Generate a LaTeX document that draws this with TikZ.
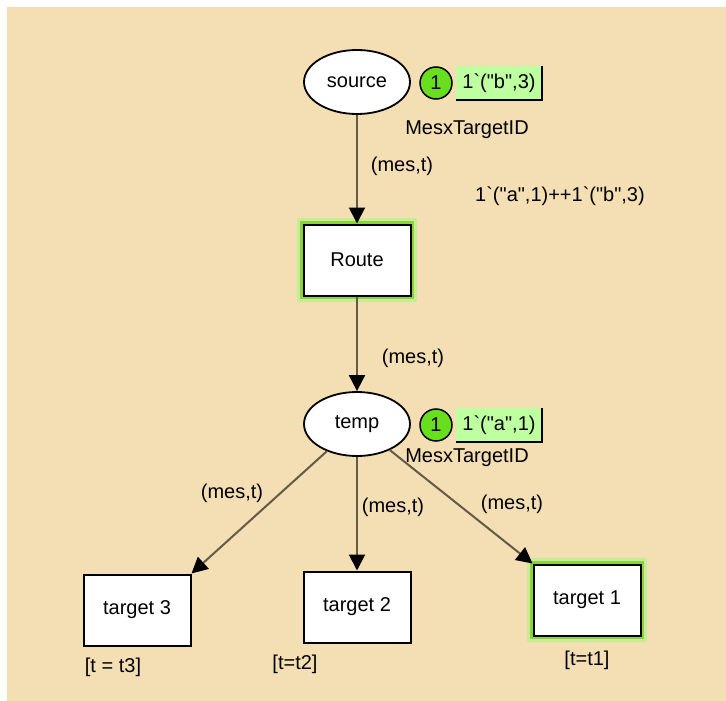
\documentclass[tikz,border=0pt]{standalone}
\usepackage{fontspec}
\setmainfont{Liberation Sans}[Ligatures=TeXOff]
\usepackage{tikz}
\usetikzlibrary{arrows.meta,shapes.geometric}
\definecolor{paper}{RGB}{244,222,179}
\definecolor{arcc}{RGB}{100,90,70}
\definecolor{tokgreen}{RGB}{104,222,30}
\definecolor{markgreen}{RGB}{190,255,160}
\definecolor{glowout}{RGB}{200,235,150}
\definecolor{glowin}{RGB}{140,210,60}
\newcommand{\bq}{\symbol{96}}
\newcommand{\marking}[4]{%
  \node[token] (#1tok) at (#2+79,#3+1) {1};%
  \node[markbox] (#1mk) at (#2+142,#3+1) {#4};%
  \draw[markedge] (#1mk.north east)--(#1mk.south east)--(#1mk.south west);%
}

\begin{document}
\begin{tikzpicture}[x=1pt,y=-1pt,
  font=\fontsize{20}{24}\selectfont,
  place/.style={ellipse,draw,line width=1.8pt,fill=white,minimum width=106pt,minimum height=64pt,inner sep=0pt},
  trans/.style={rectangle,draw,line width=2pt,fill=white,minimum width=107pt,minimum height=71pt},
  enabled/.style={preaction={draw=glowout,line width=13pt},preaction={draw=glowin,line width=7pt}},
  token/.style={circle,draw,line width=1.5pt,fill=tokgreen,minimum size=32pt,inner sep=0pt},
  markbox/.style={rectangle,fill=markgreen,minimum width=86pt,minimum height=34pt,inner sep=0pt},
  markedge/.style={line width=1.6pt},
  arc/.style={draw=arcc,line width=2pt,-{Triangle[length=16pt,width=16pt,color=black]}},
  lbl/.style={inner sep=0pt}]
  \fill[white] (0,0) rectangle (726,701);
  \fill[paper] (7,7) rectangle (726,701);
  \useasboundingbox (0,0) rectangle (726,701);

  \node[place] (source) at (357,82) {source};
  \marking{source}{357}{82}{1\bq("b",3)}
  \node[lbl] (srctype) at (467,130) {MesxTargetID};
  \node[lbl] (srcinit) at (560,196) {1\bq("a",1)++1\bq("b",3)};
  \node[trans,enabled] (route) at (357,260) {Route};
  \node[place] (temp) at (357,424) {temp};
  \marking{temp}{357}{424}{1\bq("a",1)}
  \node[lbl] (tmptype) at (467,458) {MesxTargetID};
  \node[trans] (target3) at (137,610) {target 3};
  \node[trans] (target2) at (357,607) {target 2};
  \node[trans,enabled] (target1) at (587,600) {target 1};
  \node[lbl] (g3) at (113,667) {[t = t3]};
  \node[lbl] (g2) at (295,664) {[t=t2]};
  \node[lbl] (g1) at (587,660) {[t=t1]};

  \draw[arc] (source) -- (route);
  \draw[arc] (route) -- (temp);
  \draw[arc] (temp) -- (target3.north east);
  \draw[arc] (temp) -- (target2);
  \draw[arc] (temp) -- (target1.north west);
  \node[lbl] (a1) at (402,166) {(mes,t)};
  \node[lbl] (a2) at (413,358) {(mes,t)};
  \node[lbl] (a3) at (232,493) {(mes,t)};
  \node[lbl] (a4) at (393,507) {(mes,t)};
  \node[lbl] (a5) at (512,504) {(mes,t)};
\end{tikzpicture}
\end{document}
